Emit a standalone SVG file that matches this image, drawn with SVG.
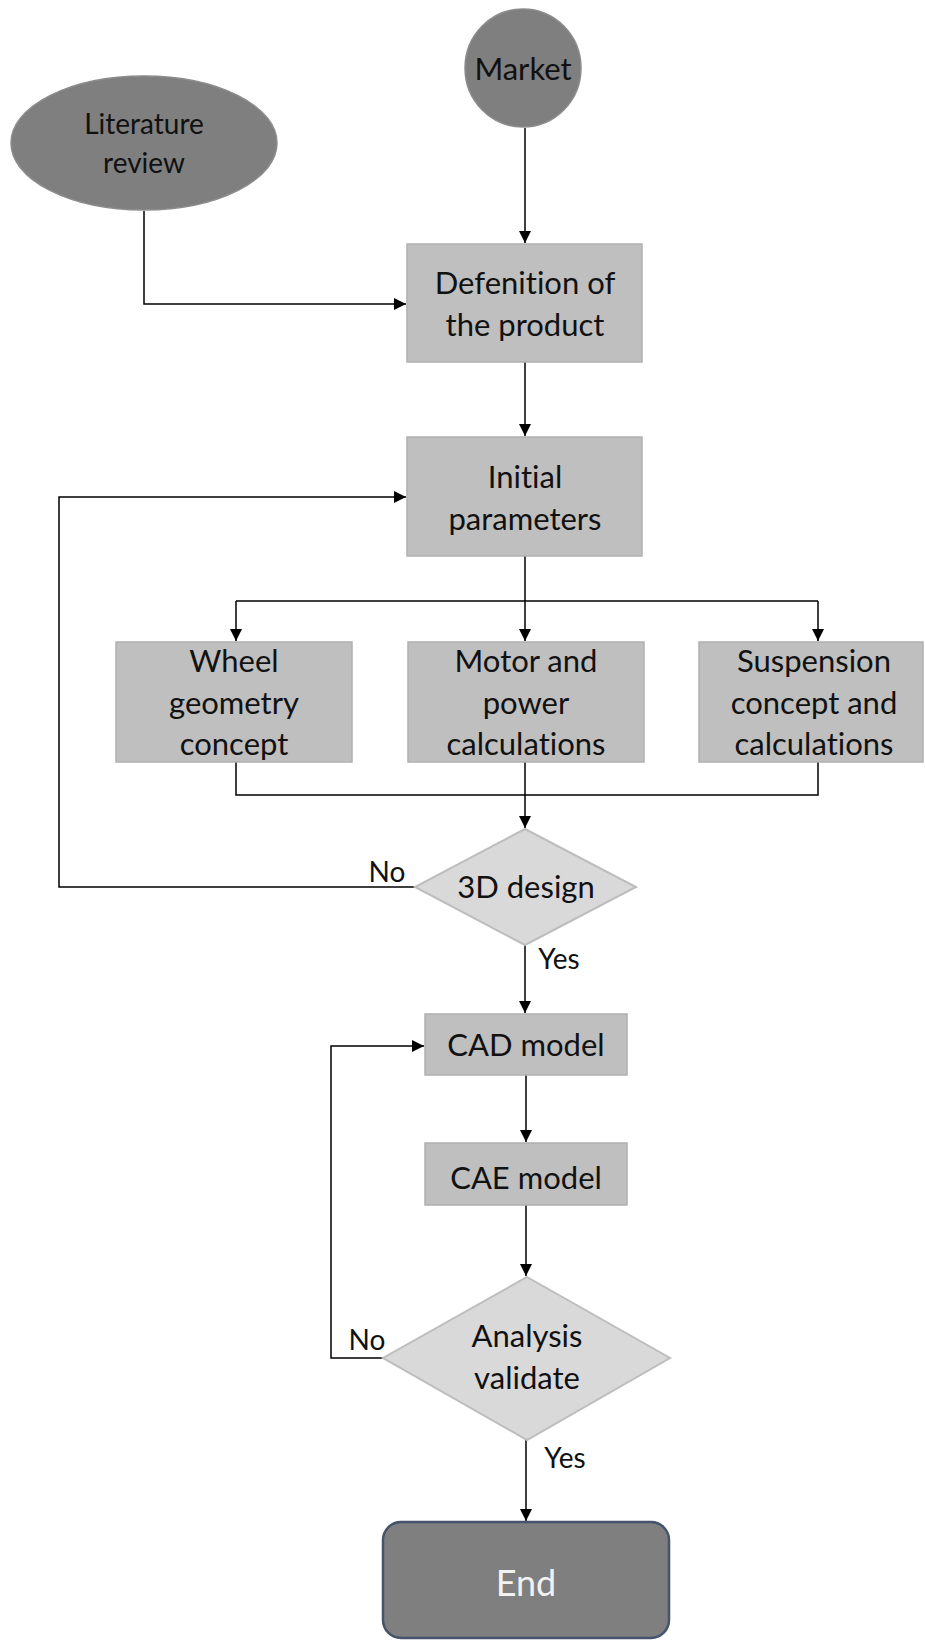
<svg xmlns="http://www.w3.org/2000/svg" width="925" height="1640" viewBox="0 0 925 1640">
<style>
  .t { font-family: Lato, "Liberation Sans", sans-serif; fill: #111; text-anchor: middle; font-variant-ligatures: none; font-size: 31px; }
  .lbl { font-size: 28px; }
  .box { fill: #bfbfbf; stroke: #b0b0b0; stroke-width: 1.5; }
  .oval { fill: #7f7f7f; stroke: #8c8c8c; stroke-width: 1.5; }
  .dia { fill: #d9d9d9; stroke: #bdbdbd; stroke-width: 2; }
  .ln { fill: none; stroke: #000; stroke-width: 1.5; }
</style>
<defs>
  <marker id="ah" viewBox="0 0 12 12" refX="12" refY="6" markerWidth="12" markerHeight="12" markerUnits="userSpaceOnUse" orient="auto">
    <path d="M0,0 L12,6 L0,12 z" fill="#000"/>
  </marker>
</defs>
<rect width="925" height="1640" fill="#fff"/>

<g id="connectors">
  <path class="ln" d="M525,128 V243" marker-end="url(#ah)"/>
  <path class="ln" d="M144,211 V304 H406" marker-end="url(#ah)"/>
  <path class="ln" d="M525,362 V436" marker-end="url(#ah)"/>
  <path class="ln" d="M525,556 V641" marker-end="url(#ah)"/>
  <path class="ln" d="M236,601 H818"/>
  <path class="ln" d="M236,601 V641" marker-end="url(#ah)"/>
  <path class="ln" d="M818,601 V641" marker-end="url(#ah)"/>
  <path class="ln" d="M236,762 V795 H818 V762"/>
  <path class="ln" d="M525,762 V828" marker-end="url(#ah)"/>
  <path class="ln" d="M415,887 H59 V497 H406" marker-end="url(#ah)"/>
  <path class="ln" d="M525,945 V1013" marker-end="url(#ah)"/>
  <path class="ln" d="M526,1075 V1142" marker-end="url(#ah)"/>
  <path class="ln" d="M526,1205 V1276" marker-end="url(#ah)"/>
  <path class="ln" d="M383,1358 H331 V1046 H424" marker-end="url(#ah)"/>
  <path class="ln" d="M526,1440 V1521" marker-end="url(#ah)"/>
  <text class="t lbl" x="387" y="882">No</text>
  <text class="t lbl" x="559" y="969">Yes</text>
  <text class="t lbl" x="367" y="1350">No</text>
  <text class="t lbl" x="565" y="1468">Yes</text>
</g>

<g id="market">
  <ellipse class="oval" cx="523" cy="68" rx="58" ry="59"/>
  <text class="t" x="523" y="80" font-size="32">Market</text>
</g>

<g id="literature">
  <ellipse class="oval" cx="144" cy="143" rx="133" ry="67"/>
  <text class="t" x="144" y="134" style="font-size:28px">Literature</text>
  <text class="t" x="144" y="173" style="font-size:28px">review</text>
</g>

<g id="definition">
  <rect class="box" x="407" y="244" width="235" height="118"/>
  <text class="t" x="525" y="294">Defenition of</text>
  <text class="t" x="525" y="336">the product</text>
</g>

<g id="initial">
  <rect class="box" x="407" y="437" width="235" height="119"/>
  <text class="t" x="525" y="488">Initial</text>
  <text class="t" x="525" y="530">parameters</text>
</g>

<g id="wheel">
  <rect class="box" x="116" y="642" width="236" height="120"/>
  <text class="t" x="234" y="672">Wheel</text>
  <text class="t" x="234" y="714">geometry</text>
  <text class="t" x="234" y="755">concept</text>
</g>

<g id="motor">
  <rect class="box" x="408" y="642" width="236" height="120"/>
  <text class="t" x="526" y="672">Motor and</text>
  <text class="t" x="526" y="714">power</text>
  <text class="t" x="526" y="755">calculations</text>
</g>

<g id="suspension">
  <rect class="box" x="699" y="642" width="224" height="120"/>
  <text class="t" x="814" y="672">Suspension</text>
  <text class="t" x="814" y="714">concept and</text>
  <text class="t" x="814" y="755">calculations</text>
</g>

<g id="design3d">
  <polygon class="dia" points="525,829 636,887 525,945 415,887"/>
  <text class="t" x="526" y="898">3D design</text>
</g>

<g id="cad">
  <rect class="box" x="425" y="1014" width="202" height="61"/>
  <text class="t" x="526" y="1056">CAD model</text>
</g>

<g id="cae">
  <rect class="box" x="425" y="1143" width="202" height="62"/>
  <text class="t" x="526" y="1189">CAE model</text>
</g>

<g id="analysis">
  <polygon class="dia" points="527,1277 670,1358 527,1440 383,1358"/>
  <text class="t" x="527" y="1347">Analysis</text>
  <text class="t" x="527" y="1389">validate</text>
</g>

<g id="end">
  <rect x="383" y="1522" width="286" height="116" rx="18" fill="#7f7f7f" stroke="#44546a" stroke-width="2.5"/>
  <text x="526" y="1596" font-size="36" font-family="Lato, 'Liberation Sans', sans-serif" fill="#f2f2f2" text-anchor="middle">End</text>
</g>
</svg>
